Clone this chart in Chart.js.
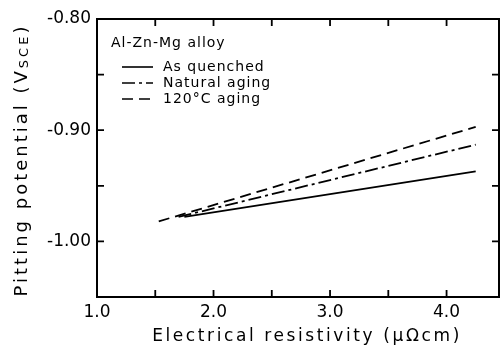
<!DOCTYPE html>
<html lang="en">
<head>
  <meta charset="UTF-8" />
  <title>Pitting potential vs electrical resistivity</title>
  <script src="https://cdn.jsdelivr.net/npm/chart.js"></script>
  <style>
    body { margin: 0; background: #fff; }
    canvas { display: block; }
  </style>
</head>
<body>
  <canvas id="chart" width="504" height="347"></canvas>
  <script>
    // data
    const seriesNames = ['As quenched', 'Natural aging', '120\u00b0C aging'];
    const quenchedX = [1.75, 4.25];
    const quenchedY = [-0.978, -0.937];
    const naturalX = [1.70, 4.25];
    const naturalY = [-0.978, -0.913];
    const agedX = [1.53, 4.25];
    const agedY = [-0.982, -0.897];
    const xTickValues = [1, 1.5, 2, 2.5, 3, 3.5, 4];
    const xLabels = [1, 2, 3, 4];
    const yLabels = [-0.8, -0.9, -1.0];

    const FONT = '"DejaVu Sans", sans-serif';
    const pts = (xs, ys) => xs.map((x, i) => ({ x: x, y: ys[i] }));

    // frame + inward tick marks on all four sides
    const framePlugin = {
      id: 'frame',
      afterDraw(chart) {
        const { ctx, chartArea: a, scales: { x, y } } = chart;
        ctx.save();
        ctx.strokeStyle = '#000';
        ctx.lineWidth = 2;
        ctx.strokeRect(a.left, a.top, a.right - a.left, a.bottom - a.top);
        ctx.lineWidth = 1.8;
        ctx.beginPath();
        x.ticks.forEach(t => {
          const px = x.getPixelForValue(t.value);
          if (px <= a.left + 2 || px >= a.right - 2) return;
          ctx.moveTo(px, a.bottom); ctx.lineTo(px, a.bottom - 7);
          ctx.moveTo(px, a.top); ctx.lineTo(px, a.top + 7);
        });
        y.ticks.forEach(t => {
          const py = y.getPixelForValue(t.value);
          if (py <= a.top + 2 || py >= a.bottom - 2) return;
          ctx.moveTo(a.left, py); ctx.lineTo(a.left + 7, py);
          ctx.moveTo(a.right, py); ctx.lineTo(a.right - 7, py);
        });
        ctx.stroke();
        ctx.restore();
      }
    };

    // axis titles (with the SCE subscript) and the in-plot legend
    const textPlugin = {
      id: 'texts',
      afterDraw(chart) {
        const { ctx, chartArea: a } = chart;
        ctx.save();
        ctx.fillStyle = '#000';
        ctx.textBaseline = 'middle';

        // x title
        ctx.font = '17px ' + FONT;
        ctx.letterSpacing = '2.6px';
        ctx.textAlign = 'center';
        ctx.fillText('Electrical resistivity (\u03bc\u03a9cm)', 307, 337);

        // y title, rotated
        ctx.save();
        ctx.translate(22, (a.top + a.bottom) / 2 + 2);
        ctx.rotate(-Math.PI / 2);
        ctx.textAlign = 'left';
        ctx.letterSpacing = '3px';
        const parts = [
          ['Pitting potential (V', '18px ' + FONT, 0],
          ['SCE', '13px ' + FONT, 3],
          [')', '18px ' + FONT, 0]
        ];
        let total = 0;
        parts.forEach(p => { ctx.font = p[1]; total += ctx.measureText(p[0]).width; });
        let cx = -total / 2;
        parts.forEach(p => {
          ctx.font = p[1];
          ctx.fillText(p[0], cx, p[2]);
          cx += ctx.measureText(p[0]).width;
        });
        ctx.restore();

        // legend
        ctx.letterSpacing = '1px';
        ctx.textAlign = 'left';
        ctx.font = '14px ' + FONT;
        ctx.fillText('Al-Zn-Mg alloy', 111, 43);
        chart.data.datasets.forEach((ds, i) => {
          const yy = 67 + i * 16;
          ctx.strokeStyle = '#000';
          ctx.lineWidth = 1.6;
          ctx.setLineDash(ds.borderDash || []);
          ctx.beginPath();
          ctx.moveTo(122, yy); ctx.lineTo(153, yy);
          ctx.stroke();
          ctx.setLineDash([]);
          ctx.fillText(ds.label, 163, yy);
        });
        ctx.restore();
      }
    };

    new Chart(document.getElementById('chart'), {
      type: 'scatter',
      data: {
        datasets: [
          { label: seriesNames[0], data: pts(quenchedX, quenchedY), borderDash: [] },
          { label: seriesNames[1], data: pts(naturalX, naturalY), borderDash: [13, 4, 3, 4] },
          { label: seriesNames[2], data: pts(agedX, agedY), borderDash: [11, 6] }
        ].map(d => Object.assign(d, {
          showLine: true, pointRadius: 0, borderColor: '#000', borderWidth: 1.8, fill: false
        }))
      },
      options: {
        responsive: false,
        animation: false,
        layout: { padding: { top: 19, right: 5, left: 0, bottom: 0 } },
        plugins: { legend: { display: false }, tooltip: { enabled: false } },
        scales: {
          x: {
            type: 'linear', min: 1, max: 4.45,
            afterFit: s => { s.height = 50; },
            afterBuildTicks: s => { s.ticks = xTickValues.map(v => ({ value: v })); },
            grid: { display: false, drawTicks: false },
            border: { display: false },
            ticks: {
              autoSkip: false, maxRotation: 0, padding: 5,
              color: '#000', font: { family: FONT, size: 17 },
              callback: v => xLabels.some(l => Math.abs(l - v) < 1e-6) ? v.toFixed(1) : ''
            }
          },
          y: {
            min: -1.05, max: -0.8,
            afterFit: s => { s.width = 97; },
            grid: { display: false, drawTicks: false },
            border: { display: false },
            ticks: {
              stepSize: 0.05, autoSkip: false, padding: 6,
              color: '#000', font: { family: FONT, size: 17 },
              callback: v => yLabels.some(l => Math.abs(l - v) < 1e-6) ? v.toFixed(2) : ''
            }
          }
        }
      },
      plugins: [framePlugin, textPlugin]
    });
  </script>
</body>
</html>
